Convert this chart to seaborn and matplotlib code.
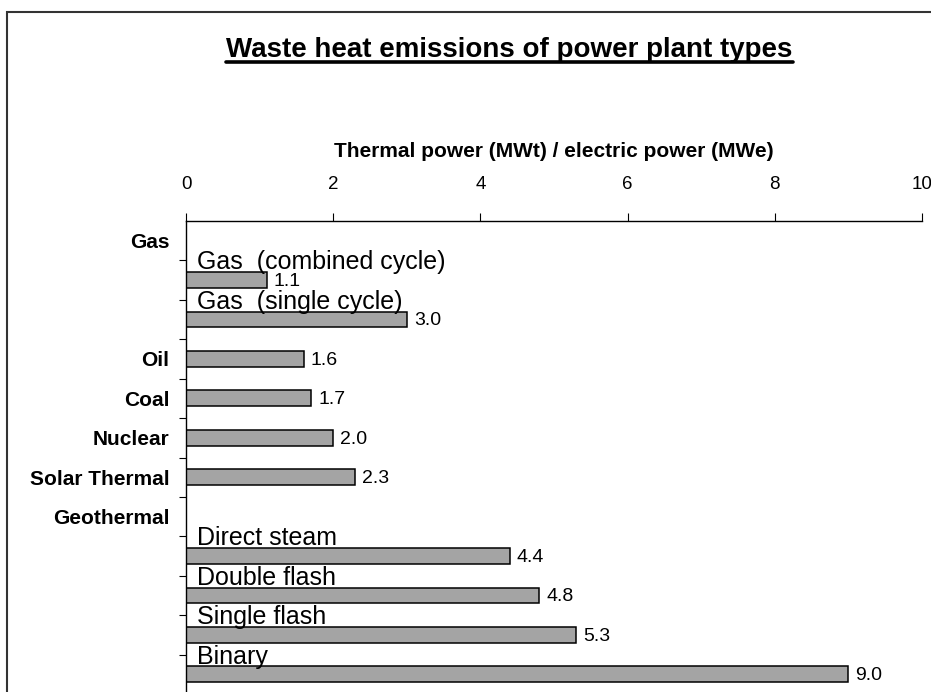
import numpy as np
import pandas as pd
import matplotlib
matplotlib.use('Agg')
import matplotlib.pyplot as plt
import matplotlib.patches as mpatches
from matplotlib.lines import Line2D
import seaborn as sns

#### Data
rows = ['Gas', 'Gas  (combined cycle)', 'Gas  (single cycle)', 'Oil', 'Coal', 'Nuclear',
        'Solar Thermal', 'Geothermal', 'Direct steam', 'Double flash', 'Single flash', 'Binary']
ratio = [np.nan, 1.1, 3.0, 1.6, 1.7, 2.0, 2.3, np.nan, 4.4, 4.8, 5.3, 9.0]
# rows labelled on the axis (bold) vs. rows labelled inside the plot above the bar
axis_rows = ['Gas', 'Oil', 'Coal', 'Nuclear', 'Solar Thermal', 'Geothermal']
x_ticks = [0, 2, 4, 6, 8, 10]

df = pd.DataFrame({'type': rows, 'ratio': ratio})

sns.set_theme(style='ticks')
plt.rcParams['font.family'] = ['Liberation Sans', 'DejaVu Sans']
plt.rcParams['text.color'] = 'black'
plt.rcParams['axes.labelcolor'] = 'black'

fig = plt.figure(figsize=(9.31, 6.92), dpi=100)
ax = fig.add_axes([186 / 931, -2 / 692, (922 - 186) / 931, (694 - 221) / 692])

sns.barplot(data=df, x='ratio', y='type', order=rows, orient='h', width=0.4,
            color='#a4a4a4', edgecolor='black', linewidth=1.1, saturation=1,
            errorbar=None, ax=ax)

ax.set_xlim(0, 10)
ax.set_ylim(len(rows) - 0.5, -0.5)

# x axis on top
ax.xaxis.set_ticks_position('top')
ax.xaxis.set_label_position('top')
ax.set_xticks(x_ticks)
ax.set_xticklabels([str(t) for t in x_ticks], fontsize=13.5)
ax.tick_params(axis='x', direction='out', length=6, width=0.8, pad=14, colors='black')
ax.set_xlabel('Thermal power (MWt) / electric power (MWe)', fontsize=15,
              fontweight='bold', labelpad=14, color='black')

# y axis: bold labels for main types only, ticks between categories
ax.set_yticks(range(len(rows)))
ax.set_yticklabels([r if r in axis_rows else '' for r in rows], fontsize=15, fontweight='bold')
ax.tick_params(axis='y', which='major', length=0, pad=12, colors='black')
ax.set_yticks(np.arange(0.5, len(rows) - 1, 1), minor=True)
ax.tick_params(axis='y', which='minor', direction='out', length=5, width=0.8, color='black')
ax.set_ylabel('')

for side in ['right', 'bottom']:
    ax.spines[side].set_visible(False)
for side in ['top', 'left']:
    ax.spines[side].set_color('black')
    ax.spines[side].set_linewidth(1.0)

# labels above sub-type bars and value labels
for i, (name, val) in enumerate(zip(rows, ratio)):
    if np.isnan(val):
        continue
    if name not in axis_rows:
        ax.text(0.15, i - 0.27, name, fontsize=18, ha='left', va='baseline', color='black')
    ax.annotate(f'{val:.1f}', xy=(val, i), xytext=(5, -1), textcoords='offset points',
                fontsize=14, ha='left', va='center', color='black')

# title with underline
title = fig.text(509.5 / 931, 1 - 57 / 692, 'Waste heat emissions of power plant types',
                 fontsize=20, fontweight='bold', ha='center', va='baseline', color='black')
fig.canvas.draw()
bb = title.get_window_extent(fig.canvas.get_renderer())
uy = (bb.y0 + 1.0) / fig.bbox.height
fig.add_artist(Line2D([bb.x0 / fig.bbox.width, bb.x1 / fig.bbox.width], [uy, uy],
                      transform=fig.transFigure, color='black', lw=2.6))

# outer border of the chart area
fig.add_artist(mpatches.Rectangle((7 / 931, -0.1), 1.2, 1.1 - 12 / 692, transform=fig.transFigure,
                                  fill=False, edgecolor='#333333', linewidth=1.5))

plt.savefig('out.png', dpi=100)
